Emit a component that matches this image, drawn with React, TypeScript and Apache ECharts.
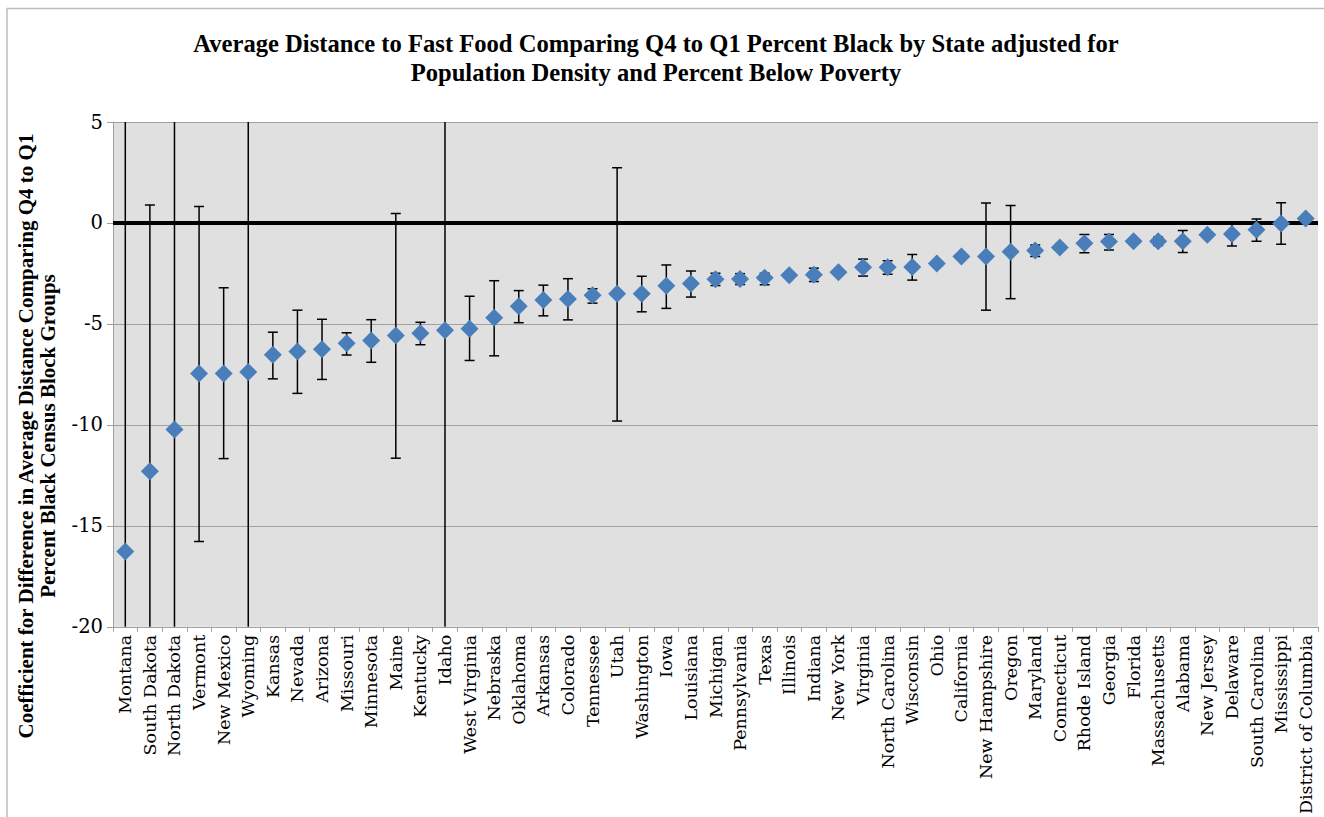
import React, { useEffect, useRef } from "react";
import * as echarts from "echarts";

const states = [
  "Montana", "South Dakota", "North Dakota", "Vermont", "New Mexico", "Wyoming",
  "Kansas", "Nevada", "Arizona", "Missouri", "Minnesota", "Maine", "Kentucky",
  "Idaho", "West Virginia", "Nebraska", "Oklahoma", "Arkansas", "Colorado",
  "Tennessee", "Utah", "Washington", "Iowa", "Louisiana", "Michigan",
  "Pennsylvania", "Texas", "Illinois", "Indiana", "New York", "Virginia",
  "North Carolina", "Wisconsin", "Ohio", "California", "New Hampshire", "Oregon",
  "Maryland", "Connecticut", "Rhode Island", "Georgia", "Florida",
  "Massachusetts", "Alabama", "New Jersey", "Delaware", "South Carolina",
  "Mississippi", "District of Columbia",
];

const coefficients = [
  -16.27, -12.3, -10.23, -7.46, -7.46, -7.38,
  -6.53, -6.36, -6.26, -5.96, -5.82, -5.57, -5.46,
  -5.31, -5.24, -4.7, -4.12, -3.82, -3.77,
  -3.58, -3.51, -3.5, -3.11, -3.0, -2.79,
  -2.78, -2.71, -2.59, -2.56, -2.44, -2.19,
  -2.19, -2.18, -2.01, -1.66, -1.66, -1.42,
  -1.36, -1.21, -1.0, -0.92, -0.9,
  -0.9, -0.9, -0.58, -0.55, -0.34,
  -0.03, 0.22,
];

const lowerBounds = [
  -40.27, -25.49, -27.23, -15.78, -11.67, -23.38,
  -7.72, -8.44, -7.75, -6.54, -6.9, -11.65, -6.03,
  -22.31, -6.81, -6.58, -4.94, -4.6, -4.8,
  -3.97, -9.81, -4.4, -4.23, -3.67, -3.1,
  -3.05, -3.06, -2.69, -2.9, -2.54, -2.63,
  -2.54, -2.83, -2.11, -1.76, -4.32, -3.75,
  -1.66, -1.31, -1.47, -1.34, -1.0,
  -1.12, -1.46, -0.68, -1.14, -0.9,
  -1.05, 0.12,
];

const upperBounds = [
  7.73, 0.89, 6.77, 0.82, -3.21, 8.62,
  -5.41, -4.32, -4.77, -5.44, -4.79, 0.47, -4.92,
  11.69, -3.63, -2.86, -3.35, -3.08, -2.76,
  -3.26, 2.74, -2.64, -2.08, -2.38, -2.49,
  -2.51, -2.49, -2.49, -2.24, -2.34, -1.79,
  -1.87, -1.56, -1.91, -1.56, 0.99, 0.87,
  -1.09, -1.11, -0.57, -0.57, -0.8,
  -0.69, -0.37, -0.48, 0.04, 0.2,
  1.0, 0.32,
];

const titleLines = [
  "Average Distance to Fast Food Comparing Q4 to Q1 Percent Black by State adjusted for",
  "Population Density and Percent Below Poverty",
];
const yTitleLines = [
  "Coefficient for Difference in Average Distance Comparing Q4 to Q1",
  "Percent Black Census Block Groups",
];

export default function App() {
  const ref = useRef<HTMLDivElement>(null);
  useEffect(() => {
    if (!ref.current) return;
    const chart = echarts.init(ref.current, null, { renderer: "svg" });
    const errData = states.map((s, i) => [i, lowerBounds[i], upperBounds[i]]);
    const barStyle = { stroke: "#000", lineWidth: 1.5 };
    chart.setOption({
      animation: false,
      backgroundColor: "#ffffff",
      grid: {
        left: 113,
        right: 6,
        top: 122,
        bottom: 189,
        show: true,
        backgroundColor: "#e0e0e0",
        borderWidth: 0,
      },
      xAxis: {
        type: "category",
        data: states,
        boundaryGap: true,
        axisLine: { show: true, onZero: false, lineStyle: { color: "#a0a0a0", width: 1 } },
        axisTick: { show: true, length: 5, lineStyle: { color: "#a0a0a0" } },
        axisLabel: {
          rotate: 90,
          interval: 0,
          margin: 8,
          fontFamily: "DejaVu Serif",
          fontSize: 17.5,
          color: "#000",
        },
        splitLine: { show: false },
      },
      yAxis: {
        type: "value",
        min: -20,
        max: 5,
        interval: 5,
        axisLine: { show: true, lineStyle: { color: "#a0a0a0", width: 1 } },
        axisTick: { show: true, length: 6, lineStyle: { color: "#a0a0a0" } },
        axisLabel: { fontFamily: "DejaVu Serif", fontSize: 19.5, color: "#000", margin: 10 },
        splitLine: { show: true, lineStyle: { color: "#a0a0a0", width: 1 } },
      },
      series: [
        {
          type: "custom",
          clip: true,
          z: 2,
          data: errData,
          renderItem: (params: any, api: any) => {
            const x = api.value(0);
            const lo = api.coord([x, api.value(1)]);
            const hi = api.coord([x, api.value(2)]);
            const cap = 5;
            return {
              type: "group",
              children: [
                { type: "line", shape: { x1: lo[0], y1: lo[1], x2: hi[0], y2: hi[1] }, style: barStyle },
                { type: "line", shape: { x1: hi[0] - cap, y1: hi[1], x2: hi[0] + cap, y2: hi[1] }, style: barStyle },
                { type: "line", shape: { x1: lo[0] - cap, y1: lo[1], x2: lo[0] + cap, y2: lo[1] }, style: barStyle },
              ],
            };
          },
        },
        {
          type: "scatter",
          z: 4,
          symbol: "diamond",
          symbolSize: 18,
          itemStyle: { color: "#4a7ebb", opacity: 1 },
          data: coefficients,
          markLine: {
            silent: true,
            symbol: ["none", "none"],
            label: { show: false },
            lineStyle: { color: "#000", width: 4, type: "solid", opacity: 1 },
            data: [{ yAxis: 0 }],
            z: 3,
          },
        },
      ],
      graphic: [
        {
          type: "polyline",
          shape: { points: [[7, 830], [7, 8.5], [1330, 8.5]] },
          style: { stroke: "#bdbdbd", lineWidth: 1.5, fill: null },
        },
        {
          type: "text",
          x: 656,
          y: 43,
          style: {
            text: titleLines[0],
            textAlign: "center",
            textVerticalAlign: "middle",
            fontFamily: "Liberation Serif",
            fontWeight: "bold",
            fontSize: 24.6,
            fill: "#000",
          },
        },
        {
          type: "text",
          x: 656,
          y: 72,
          style: {
            text: titleLines[1],
            textAlign: "center",
            textVerticalAlign: "middle",
            fontFamily: "Liberation Serif",
            fontWeight: "bold",
            fontSize: 24.6,
            fill: "#000",
          },
        },
        {
          type: "text",
          x: 26,
          y: 436,
          rotation: Math.PI / 2,
          style: {
            text: yTitleLines[0],
            textAlign: "center",
            textVerticalAlign: "middle",
            fontFamily: "Liberation Serif",
            fontWeight: "bold",
            fontSize: 21,
            fill: "#000",
          },
        },
        {
          type: "text",
          x: 48,
          y: 436,
          rotation: Math.PI / 2,
          style: {
            text: yTitleLines[1],
            textAlign: "center",
            textVerticalAlign: "middle",
            fontFamily: "Liberation Serif",
            fontWeight: "bold",
            fontSize: 21,
            fill: "#000",
          },
        },
      ],
    });
    return () => chart.dispose();
  }, []);
  return (
    <div
      ref={ref}
      style={{ position: "fixed", left: 0, top: 0, width: 1324, height: 817 }}
    />
  );
}
